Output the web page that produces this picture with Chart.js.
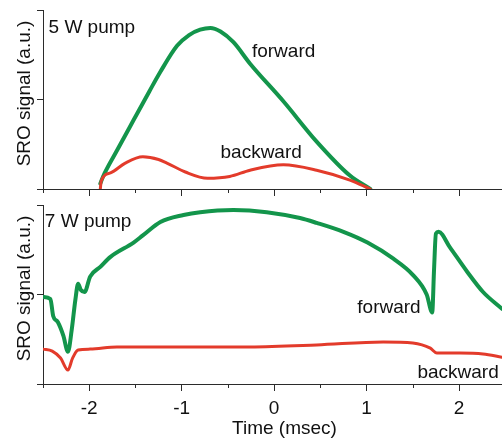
<!DOCTYPE html>
<html>
<head>
<meta charset="utf-8">
<script src="https://cdn.jsdelivr.net/npm/chart.js@4/dist/chart.umd.min.js"></script>
<style>
    body { margin: 0; background: #fff; }
    canvas { position: absolute; left: 0; }
    #pump5 { top: 0; }
    #pump7 { top: 198px; }
</style>
</head>
<body>
<canvas id="pump5" width="502" height="198"></canvas>
<canvas id="pump7" width="502" height="240"></canvas>
<script>
// time axis (msec)
const majorTicks = [-2, -1, 0, 1, 2]
const minorTicks = [-2.5, -1.5, -0.5, 0.5, 1.5]
const signalTicks = [0, 0.5, 1]

// 5 W pump
const fwd5Time = [-1.88, -1.85, -1.70, -1.52, -1.35, -1.23, -1.05, -0.92, -0.80, -0.69, -0.58, -0.44, -0.26, 0.10, 0.46, 0.82, 1.04]
const fwd5Signal = [0.03, 0.07, 0.215, 0.385, 0.545, 0.655, 0.80, 0.86, 0.89, 0.90, 0.88, 0.82, 0.70, 0.49, 0.265, 0.075, 0]
const bwd5Time = [-1.88, -1.87, -1.77, -1.61, -1.42, -1.25, -1.16, -0.96, -0.72, -0.48, -0.26, 0.10, 0.46, 0.82, 1.04]
const bwd5Signal = [0, 0.045, 0.09, 0.145, 0.18, 0.165, 0.145, 0.095, 0.06, 0.07, 0.105, 0.135, 0.105, 0.05, 0]

// 7 W pump
const fwd7Time = [-2.50, -2.42, -2.39, -2.34, -2.28, -2.23, -2.19, -2.15, -2.12, -2.09, -2.05, -1.99, -1.88, -1.77, -1.52, -1.42, -1.23, -0.98, -0.80, -0.44, -0.08, 0.28, 0.46, 0.75, 1.01, 1.29, 1.50, 1.65, 1.71, 1.73, 1.75, 1.78, 1.90, 2.09, 2.26, 2.465]
const fwd7Signal = [0.486, 0.475, 0.38, 0.346, 0.27, 0.18, 0.30, 0.47, 0.56, 0.525, 0.514, 0.60, 0.654, 0.71, 0.79, 0.83, 0.905, 0.944, 0.96, 0.972, 0.96, 0.927, 0.90, 0.85, 0.79, 0.70, 0.61, 0.50, 0.40, 0.64, 0.84, 0.85, 0.765, 0.626, 0.514, 0.42]
const bwd7Time = [-2.50, -2.40, -2.31, -2.23, -2.18, -2.12, -1.99, -1.70, -0.98, -0.26, 0.46, 1.18, 1.50, 1.69, 1.76, 2.01, 2.26, 2.465]
const bwd7Signal = [0.195, 0.184, 0.145, 0.078, 0.145, 0.19, 0.195, 0.207, 0.207, 0.207, 0.218, 0.235, 0.229, 0.20, 0.173, 0.173, 0.168, 0.15]

const FONT = "'Liberation Sans', Arial, sans-serif"
const GREEN = "#13954b"
const RED = "#e33b2b"
const AXIS = "#2b2b2b"
const TEXT = "#111111"

const points = (t, v) => t.map((x, i) => ({ x: x, y: v[i] }))

// half-step tick marks, text labels and axis titles
const extras = {
    id: "extras",
    afterDraw(chart, args, opts) {
        const ctx = chart.ctx
        const xs = chart.scales.x
        const ys = chart.scales.y
        ctx.save()
        ctx.strokeStyle = AXIS
        ctx.lineWidth = 1
        minorTicks.forEach(t => {
            const px = Math.round(xs.getPixelForValue(t)) + 0.5
            ctx.beginPath()
            ctx.moveTo(px, ys.bottom)
            ctx.lineTo(px, ys.bottom + 4)
            ctx.stroke()
        })

        ctx.fillStyle = TEXT
        ctx.font = "19px " + FONT
        ctx.textBaseline = "alphabetic"
        opts.labels.forEach(l => {
            ctx.fillText(l.text, xs.getPixelForValue(l.x), ys.getPixelForValue(l.y))
        })

        if (opts.xTitle) {
            ctx.textAlign = "center"
            ctx.fillText("Time (msec)", (xs.left + xs.right) / 2 + 12, chart.height - 4)
        }

        ctx.translate(25, (ys.top + ys.bottom) / 2 - 6)
        ctx.rotate(-Math.PI / 2)
        ctx.textAlign = "center"
        ctx.textBaseline = "middle"
        ctx.fillText("SRO signal (a.u.)", 0, 0)
        ctx.restore()
    }
}

function makeChart(id, fwd, bwd, labels, bottomAxis) {
    const ctx = document.getElementById(id).getContext("2d")
    return new Chart(ctx, {
        type: "line",
        data: {
            datasets: [
                { label: "backward", data: bwd, borderColor: RED, borderWidth: 3 },
                { label: "forward", data: fwd, borderColor: GREEN, borderWidth: 4 }
            ]
        },
        options: {
            responsive: false,
            animation: false,
            devicePixelRatio: 1,
            layout: { padding: { top: bottomAxis ? 7 : 10, left: 0, right: 0, bottom: 0 } },
            elements: {
                point: { radius: 0 },
                line: { cubicInterpolationMode: "monotone", fill: false, borderCapStyle: "round" }
            },
            plugins: {
                legend: { display: false },
                tooltip: { enabled: false },
                extras: { labels: labels, xTitle: bottomAxis }
            },
            scales: {
                x: {
                    type: "linear",
                    min: -2.5,
                    max: 2.465,
                    afterBuildTicks: s => { s.ticks = majorTicks.map(v => ({ value: v })) },
                    afterFit: s => { s.height = bottomAxis ? 54 : 9 },
                    ticks: {
                        display: bottomAxis,
                        maxRotation: 0,
                        padding: 6,
                        color: TEXT,
                        font: { family: FONT, size: 19 },
                        callback: v => String(v)
                    },
                    grid: { drawOnChartArea: false, tickLength: 7, color: AXIS },
                    border: { color: AXIS, width: 1 }
                },
                y: {
                    min: 0,
                    max: 1,
                    afterBuildTicks: s => { s.ticks = signalTicks.map(v => ({ value: v })) },
                    afterFit: s => { s.width = 43 },
                    ticks: { display: false },
                    grid: { drawOnChartArea: false, tickLength: 6, color: AXIS },
                    border: { color: AXIS, width: 1 }
                }
            }
        },
        plugins: [extras]
    })
}

makeChart("pump5", points(fwd5Time, fwd5Signal), points(bwd5Time, bwd5Signal), [
    { text: "5 W pump", x: -2.44, y: 0.87 },
    { text: "forward", x: -0.24, y: 0.737 },
    { text: "backward", x: -0.58, y: 0.173 }
], false)

makeChart("pump7", points(fwd7Time, fwd7Signal), points(bwd7Time, bwd7Signal), [
    { text: "7 W pump", x: -2.48, y: 0.877 },
    { text: "forward", x: 0.90, y: 0.397 },
    { text: "backward", x: 1.55, y: 0.034 }
], true)
</script>
</body>
</html>
